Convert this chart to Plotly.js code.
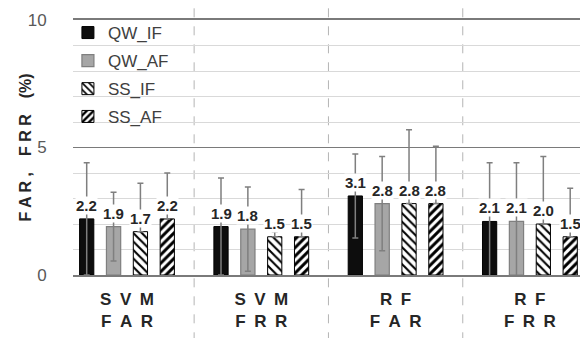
<!DOCTYPE html>
<html><head><meta charset="utf-8">
<script src="https://cdn.plot.ly/plotly-3.0.1.min.js"></script>
<style>html,body{margin:0;padding:0;background:#fff}#chart{width:580px;height:338px}</style>
</head><body><div id="chart"></div>
<script>
// ---- data ----
const methods = ['SVM', 'SVM', 'RF', 'RF'];
const metrics = ['FAR', 'FRR', 'FAR', 'FRR'];
const seriesNames = ['QW_IF', 'QW_AF', 'SS_IF', 'SS_AF'];
const qwIF = [2.2, 1.9, 3.1, 2.1];
const qwAF = [1.9, 1.8, 2.8, 2.1];
const ssIF = [1.7, 1.5, 2.8, 2.0];
const ssAF = [2.2, 1.5, 2.8, 1.5];
// error bars (upper / visible lower extent)
const qwIFerr = [2.2, 1.9, 1.65, 2.3];
const qwAFerr = [1.35, 1.65, 1.85, 2.3];
const ssIFerr = [1.9, 0.2, 2.9, 2.65];
const ssAFerr = [1.8, 1.85, 2.25, 1.9];
const qwIFerrLow = [2.2, 1.9, 1.65, 2.3];
const qwAFerrLow = [1.35, 1.65, 1.85, 2.3];
const ssIFerrLow = [0, 0, 0, 0];
const ssAFerrLow = [0, 0, 0, 0];
const yTicks = [0, 5, 10];
const yTickText = ['0', '5', '10'];

// ---- build ----
const sp = s => s.split('').join('\u2002');
const categories = methods.map((m, i) => sp(m) + '<br>' + sp(metrics[i]));

const values = [qwIF, qwAF, ssIF, ssAF];
const errHi = [qwIFerr, qwAFerr, ssIFerr, ssAFerr];
const errLo = [qwIFerrLow, qwAFerrLow, ssIFerrLow, ssAFerrLow];
const markers = [
  {color: '#0d0d0d', line: {color: '#000000', width: 1}},
  {color: '#a6a6a6', line: {color: '#7f7f7f', width: 1.2}},
  {color: '#ffffff', pattern: {shape: '\\', fgcolor: '#000000', bgcolor: '#ffffff', size: 6, solidity: 0.35}, line: {color: '#000000', width: 1}},
  {color: '#ffffff', pattern: {shape: '/', fgcolor: '#000000', bgcolor: '#ffffff', size: 6, solidity: 0.5}, line: {color: '#000000', width: 1}}
];
const legendIds = ['legend', 'legend2', 'legend3', 'legend4'];
const legendY = [0.949, 0.839, 0.729, 0.620];

const traces = values.map((v, k) => ({
  type: 'bar',
  name: seriesNames[k],
  x: categories,
  y: v,
  marker: markers[k],
  legend: legendIds[k],
  error_y: {type: 'data', symmetric: false, array: errHi[k], arrayminus: errLo[k],
            color: '#7f7f7f', thickness: 1.5, width: 3},
  hoverinfo: 'skip'
}));

const bargap = 0.2;
const nS = values.length;
const slot = (1 - bargap) / nS;
const annotations = [];
values.forEach((v, k) => {
  v.forEach((val, i) => {
    annotations.push({
      x: i - (1 - bargap) / 2 + slot * (k + 0.5), xref: 'x',
      y: val, yref: 'y', yanchor: 'bottom', yshift: 4,
      text: val.toFixed(1), showarrow: false,
      bgcolor: '#ffffff', borderpad: 0,
      font: {family: 'Liberation Sans, Arial, sans-serif', size: 15, weight: 'bold', color: '#262626'}
    });
  });
});

const shapes = [];
for (let i = 1; i < categories.length; i++) {
  shapes.push({type: 'line', xref: 'x', yref: 'paper', x0: i - 0.5, x1: i - 0.5, y0: -0.26, y1: 1.1,
               line: {color: '#b4b4b4', width: 1, dash: 'dash'}, layer: 'below'});
}

const legendBase = {x: -0.01, xanchor: 'left', yanchor: 'middle', bgcolor: 'rgba(0,0,0,0)',
  font: {family: 'Liberation Sans, Arial, sans-serif', size: 17, color: '#404040'}};
const layout = {
  width: 580, height: 338,
  margin: {l: 73, r: 0, t: 20, b: 63},
  paper_bgcolor: '#ffffff', plot_bgcolor: '#ffffff',
  barmode: 'group', bargap: bargap, bargroupgap: 0.47,
  showlegend: true,
  font: {family: 'Liberation Sans, Arial, sans-serif'},
  xaxis: {
    type: 'category', range: [-0.402, 3.373],
    showline: true, mirror: true, linecolor: '#7a7a7a', linewidth: 1.8,
    showgrid: false, ticks: '', ticklabelstandoff: 8,
    tickfont: {size: 17, weight: 'bold', color: '#262626'}
  },
  yaxis: {
    range: [0, 10], tickvals: yTicks, ticktext: yTickText,
    showgrid: true, gridcolor: '#7a7a7a', gridwidth: 1.8,
    minor: {dtick: 1, showgrid: true, gridcolor: '#d9d9d9', gridwidth: 1},
    zeroline: false, showline: false,
    ticks: 'outside', ticklen: 22, tickcolor: 'rgba(0,0,0,0)',
    tickfont: {size: 17, color: '#595959'},
    title: {text: 'F A R ,\u2003F R R\u2003(%)', font: {size: 16, weight: 'bold', color: '#262626'}}
  },
  annotations: annotations,
  shapes: shapes
};
legendIds.forEach((id, k) => { layout[id] = Object.assign({}, legendBase, {y: legendY[k]}); });

Plotly.newPlot('chart', traces, layout, {staticPlot: true, displayModeBar: false});
</script>
</body></html>
